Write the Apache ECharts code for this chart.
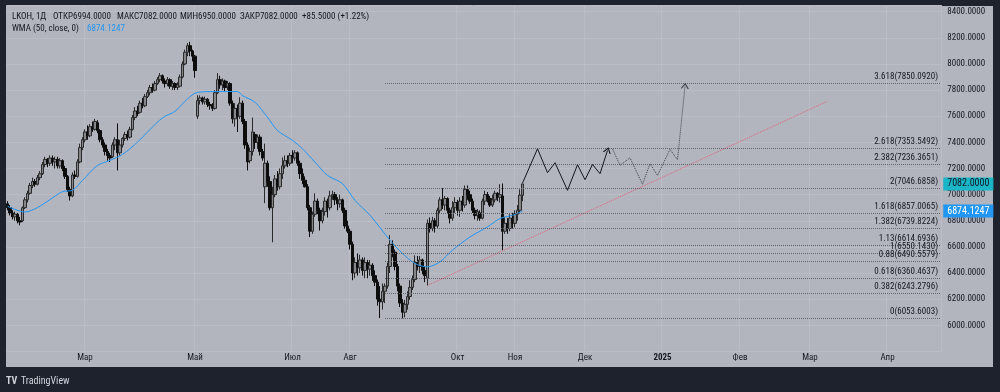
<!DOCTYPE html>
<html><head><meta charset="utf-8">
<script src="https://cdn.jsdelivr.net/npm/echarts@6/dist/echarts.min.js"></script>
<style>html,body{margin:0;padding:0;background:#1e222d;}#c{width:1000px;height:392px;}</style>
</head><body><div id="c"></div>
<script>
const FONT = "'Liberation Sans Narrow','Roboto Condensed','Roboto',sans-serif";
const TXT = '#131722';
const FS = 9;

// ---- calendar ----
const historyStart = '2024-01-18';
const holidays = ['2024-05-01','2024-05-09','2024-05-10','2024-06-12','2024-11-04'];
const workSaturdays = ['2024-04-27','2024-11-02'];
const futureDays = 167;
const monthTicks = ['2024-03','2024-05','2024-07','2024-08','2024-10','2024-11','2024-12','2025-01','2025-02','2025-03','2025-04'];
const monthNames = ['Мар','Май','Июл','Авг','Окт','Ноя','Дек','2025','Фев','Мар','Апр'];

// ---- daily candles [open, close, low, high] ----
const ohlc = [
[6930,6900,6880,6950],[6900,6860,6840,6920],[6860,6830,6810,6880],[6830,6850,6800,6870],[6850,6800,6780,6860],
[6800,6790,6765,6830],[6800,6900,6790,6910],[6900,6960,6890,6980],[6960,7010,6940,7030],[7010,7070,7000,7090],
[7070,7100,7050,7130],[7100,7080,7060,7120],[7080,7130,7070,7150],[7130,7160,7110,7180],[7160,7230,7150,7250],
[7230,7270,7210,7290],[7270,7240,7210,7280],[7240,7280,7220,7300],[7280,7250,7220,7300],[7250,7270,7200,7290],
[7270,7220,7200,7290],[7220,7260,7200,7280],[7260,7200,7180,7270],[7200,7140,7120,7220],[7140,7040,7020,7150],
[7040,6990,6955,7060],[6990,7150,6980,7170],[7150,7140,7120,7185],[7140,7250,7130,7270],[7250,7360,7240,7390],
[7360,7420,7340,7440],[7420,7480,7400,7500],[7480,7450,7420,7530],[7450,7520,7440,7540],[7520,7500,7480,7560],
[7500,7560,7490,7580],[7550,7490,7470,7570],[7490,7420,7400,7500],[7420,7380,7360,7440],[7380,7330,7300,7400],
[7330,7300,7260,7350],[7300,7280,7250,7320],[7290,7380,7280,7400],[7380,7420,7340,7440],[7420,7320,7185,7545],
[7320,7380,7300,7420],[7380,7430,7360,7440],[7430,7460,7410,7480],[7460,7440,7415,7490],[7440,7500,7430,7520],
[7500,7590,7490,7610],[7590,7640,7570,7670],[7640,7620,7600,7680],[7630,7700,7620,7720],[7700,7680,7660,7740],
[7680,7750,7670,7770],[7750,7780,7740,7800],[7780,7820,7760,7840],[7820,7800,7780,7850],[7800,7850,7790,7870],
[7850,7880,7840,7900],[7880,7910,7860,7930],[7910,7870,7850,7920],[7870,7850,7820,7890],[7850,7880,7830,7900],
[7880,7830,7810,7890],[7830,7850,7800,7870],[7850,7820,7800,7860],[7820,7840,7800,7860],[7830,7900,7820,7920],
[7900,8000,7890,8020],[8000,8090,7990,8110],[8090,8140,8060,8160],[8140,8100,8060,8170],[8100,8060,8020,8110],
[8060,7950,7895,8070],[7600,7720,7580,7760],[7720,7740,7690,7760],[7740,7710,7690,7750],[7710,7730,7690,7750],
[7730,7690,7670,7740],[7690,7680,7650,7710],[7680,7660,7640,7700],[7660,7780,7650,7800],[7780,7880,7770,7930],
[7880,7840,7810,7910],[7840,7870,7800,7890],[7870,7820,7790,7880],[7830,7850,7800,7870],[7850,7700,7680,7860],
[7700,7580,7545,7720],[7580,7660,7520,7700],[7660,7600,7480,7690],[7600,7700,7580,7745],[7700,7560,7540,7720],
[7560,7380,7350,7580],[7380,7250,7185,7400],[7260,7330,7240,7360],[7330,7480,7300,7590],[7460,7400,7350,7480],
[7400,7440,7350,7460],[7440,7330,7300,7460],[7330,7280,7260,7350],[7060,7240,6935,7390],[7240,7100,7060,7260],
[7100,6900,6880,7140],[6900,7000,6635,7060],[7000,7120,6980,7150],[7120,7060,7030,7180],[7060,7160,7040,7200],
[7160,7220,7120,7285],[7220,7260,7200,7300],[7260,7240,7210,7300],[7240,7300,7220,7320],[7300,7280,7240,7340],
[7280,7320,7260,7340],[7320,7240,7220,7330],[7240,7160,7120,7260],[7160,7110,7080,7200],[7110,7060,7055,7140],
[7060,6900,6880,7080],[6900,6720,6675,6920],[6720,6850,6700,6870],[6850,6950,6830,7010],[6950,6880,6850,6970],
[6880,6800,6725,6900],[6800,6870,6780,6900],[6870,6950,6840,6980],[6950,6900,6825,6970],[6900,6990,6880,7030],
[6990,7000,6960,7030],[7000,6960,6920,7020],[6960,6930,6880,6980],[6930,6960,6900,7000],[6960,6880,6860,6970],
[6880,6760,6740,6900],[6760,6720,6705,6800],[6720,6620,6580,6740],[6620,6400,6345,6640],[6400,6480,6360,6520],
[6480,6440,6380,6550],[6440,6500,6400,6540],[6500,6420,6380,6520],[6420,6480,6360,6520],[6480,6430,6360,6500],
[6430,6460,6380,6500],[6460,6380,6340,6475],[6380,6330,6300,6420],[6330,6200,6150,6350],[6200,6180,6055,6300],
[6180,6260,6120,6320],[6260,6300,6170,6320],[6300,6450,6280,6480],[6450,6620,6400,6690],[6620,6560,6520,6650],
[6560,6450,6420,6580],[6450,6300,6260,6470],[6300,6170,6140,6320],[6170,6100,6053.6,6200],[6100,6160,6060,6195],
[6160,6220,6120,6260],[6220,6290,6195,6345],[6290,6350,6270,6380],[6350,6480,6330,6535],[6480,6450,6420,6530],
[6450,6500,6400,6530],[6500,6420,6390,6510],[6420,6380,6330,6450],[6360,6780,6305,6810],[6780,6740,6710,6825],
[6740,6800,6720,6830],[6800,6760,6710,6820],[6760,6880,6740,6900],[6880,6960,6860,6980],[6960,6920,6890,7050],
[6920,6970,6880,6990],[6970,6880,6860,6980],[6880,6820,6780,6900],[6820,6900,6800,6950],[6900,6940,6860,6980],
[6940,6880,6840,6960],[6880,6950,6830,6980],[6950,6920,6870,6990],[6920,7040,6900,7070],[7040,7000,6960,7070],
[7000,6950,6930,7030],[6950,6880,6860,6970],[6880,6840,6810,6900],[6840,6870,6800,6890],[6860,6820,6800,6880],
[6820,6950,6810,6970],[6950,7000,6920,7030],[7000,6970,6940,7020],[6970,6920,6905,6990],[6920,6960,6905,7000],
[6960,7010,6940,7030],[7010,6980,6950,7020],[6980,7000,6940,7080],[6990,6720,6575,7085],[6720,6780,6700,6830],
[6780,6740,6700,6820],[6740,6820,6720,6850],[6820,6780,6740,6860],[6780,6850,6750,6880],[6850,6880,6800,6920],
[6880,6996.5,6860,7040],[6994,7082,6950,7082]
];

// ---- WMA(50): [bar index, value] ----
const wmaPoints = [[0,6911],[7,6867],[12,6901],[17,6962],[22,7023],[26,7033],[30,7109],[36,7224],[41,7262],[46,7308],
[52,7402],[57,7498],[62,7588],[67,7638],[72,7733],[76,7783],[84,7789],[92,7789],[94,7758],[99,7707],[104,7592],
[108,7491],[114,7415],[118,7351],[123,7249],[128,7147],[134,7084],[139,6956],[145,6842],[153,6651],[158,6550],
[163,6473],[168,6447],[173,6486],[178,6575],[185,6676],[192,6753],[197,6817],[202,6842],[206,6874.1247]];
const wmaLast = 6874.1247;

// ---- projections ----
const projDates = ['2024-11-06','2024-11-12','2024-11-16','2024-11-19','2024-11-24','2024-11-28','2024-12-01','2024-12-04','2024-12-07','2024-12-10'];
const projValues = [7088,7351,7168,7244,7033,7229,7114,7231,7160,7338];
const proj2Dates = ['2024-12-12','2024-12-15','2024-12-19','2024-12-24','2024-12-27','2024-12-30','2025-01-04','2025-01-07','2025-01-10'];
const proj2Values = [7350,7224,7282,7079,7237,7147,7346,7267,7830];
const trendDates = ['2024-09-13','2025-03-08'];
const trendValues = [6305,7715];

// ---- Fibonacci extension ----
const fibStartDate = '2024-08-21';
const fibRatios = ['0','0.382','0.618','0.88','1','1.13','1.382','1.618','2','2.382','2.618','3.618'];
const fibValues = [6053.6003,6243.2796,6360.4637,6490.5579,6550.1430,6614.6936,6739.8224,6857.0065,7046.6858,7236.3651,7353.5492,7850.0920];

// ---- header ----
const header1 = [['LKOH, 1Д',12],['ОТКР6994.0000',53],['МАКС7082.0000',117],['МИН6950.0000',180],['ЗАКР7082.0000',240],['+85.5000 (+1.22%)',302]];

// ---- build categories ----
function fmt(d){return d.toISOString().slice(0,10);}
const dates = [];
let d = new Date(historyStart+'T00:00:00Z');
while (dates.length < ohlc.length) {
  const s = fmt(d), wd = d.getUTCDay();
  if ((wd>0 && wd<6 && !holidays.includes(s)) || workSaturdays.includes(s)) dates.push(s);
  d.setUTCDate(d.getUTCDate()+1);
}
d = new Date(dates[dates.length-1]+'T00:00:00Z');
for (let i=0;i<futureDays;i++){ d.setUTCDate(d.getUTCDate()+1); dates.push(fmt(d)); }
const idx = s => dates.indexOf(s);
const labelMap = {};
monthTicks.forEach((m,k)=>{ const i = dates.findIndex(x=>x.startsWith(m)); if(i>=0) labelMap[i]=monthNames[k]; });
const isTick = (i)=> labelMap[i] !== undefined;
const lastIdx = dates.length-1;
const lastClose = ohlc[ohlc.length-1][1];

const chevron = 'path://M0,8L4,0L8,8';
const projData = projDates.map((s,k)=>[idx(s),projValues[k]]);
projData[projData.length-1] = {value: projData[projData.length-1], symbol: chevron, symbolSize:[7,5], symbolRotate:-17,
  itemStyle:{color:'rgba(0,0,0,0)', borderColor:'#131722', borderWidth:1}};
const proj2Data = proj2Dates.map((s,k)=>[idx(s),proj2Values[k]]);
proj2Data[proj2Data.length-1] = {value: proj2Data[proj2Data.length-1], symbol: chevron, symbolSize:[7,5], symbolRotate:-5,
  itemStyle:{color:'rgba(0,0,0,0)', borderColor:'#3c3f48', borderWidth:1}};

const chart = echarts.init(document.getElementById('c'));
const option = {
  backgroundColor: '#1e222d',
  animation: false,
  textStyle: {fontFamily: FONT},
  grid: {left: 6.25, right: 58.75, top: 5.2, bottom: 40.6},
  xAxis: {
    type: 'category', data: dates, boundaryGap: true,
    axisLine: {show:false}, axisTick: {show:false},
    axisLabel: {interval: (i)=>isTick(i), formatter: (v,i)=> labelMap[i]==='2025' ? '{b|2025}' : (labelMap[i]||''),
      color: TXT, fontSize: FS, fontFamily: FONT, margin: 2, hideOverlap: false,
      rich: {b: {fontWeight: 'bold', fontSize: FS, fontFamily: FONT, color: TXT}}},
    splitLine: {show: true, interval: (i)=>isTick(i), lineStyle: {color: '#babdc5', width: 1}}
  },
  yAxis: {
    type: 'value', position: 'right', min: 5800, max: 8450, interval: 200, scale: true,
    axisLine: {show:false}, axisTick: {show:false},
    axisLabel: {formatter: v=>v.toFixed(4), color: TXT, fontSize: FS, fontFamily: FONT, margin: 6, showMinLabel:false, showMaxLabel:false},
    splitLine: {show: true, lineStyle: {color: '#babdc5', width: 1}}
  },
  graphic: [
    {type:'rect', z:-100, silent:true, shape:{x:6,y:6,width:987,height:361}, style:{fill:'#b2b5be'}},
    ...header1.map(([t,x])=>({type:'text', z:100, silent:true, style:{text:t, x:x, y:17, verticalAlign:'middle', fill:TXT, font:FS+'px '+FONT}})),
    {type:'text', z:100, silent:true, style:{text:'WMA (50, close, 0)', x:12, y:29, verticalAlign:'middle', fill:TXT, font:FS+'px '+FONT}},
    {type:'text', z:100, silent:true, style:{text:wmaLast.toFixed(4), x:87, y:29, verticalAlign:'middle', fill:'#2196f3', font:FS+'px '+FONT}},
    {type:'text', z:100, silent:true, style:{text:'TV', x:6, y:381, verticalAlign:'middle', fill:'#d1d4dc', font:'bold 10px '+FONT}},
    {type:'text', z:100, silent:true, style:{text:'TradingView', x:21, y:381, verticalAlign:'middle', fill:'#d1d4dc', font:'10px '+FONT}}
  ],
  series: [
    {
      type: 'line', z: 1, data: [], silent: true,
      markLine: {
        silent: true, symbol: ['none','none'], animation:false,
        lineStyle: {type:'dotted', color:'#62656e', width:1},
        label: {show:true, position:'insideEndTop', distance:[2,2], color:TXT, fontSize:FS, fontFamily:FONT,
          formatter: p => p.data.name},
        data: fibValues.map((v,k)=>[
          {coord:[idx(fibStartDate), v], name: fibRatios[k]+'('+v.toFixed(4)+')'},
          {coord:[lastIdx, v]}
        ])
      }
    },
    {
      type: 'candlestick', z: 3, data: ohlc, barWidth: 3,
      itemStyle: {color:'#86878c', borderColor:'#2a2a2a', color0:'#0d0d0d', borderColor0:'#0d0d0d', borderWidth:1},
      markLine: {
        silent: true, symbol:['none','none'], animation:false,
        lineStyle: {color:'rgba(0,0,0,0)', width:0},
        data: [
          {yAxis: lastClose, label:{show:true, position:'end', distance:2, formatter: ()=>lastClose.toFixed(4),
            backgroundColor:'#1ab6c8', color:TXT, padding:[2,4,1,4], fontSize:FS+1, fontFamily:FONT}},
          {yAxis: wmaLast, label:{show:true, position:'end', distance:2, formatter: ()=>wmaLast.toFixed(4),
            backgroundColor:'#2196f3', color:'#ffffff', padding:[2,4,1,4], fontSize:FS+1, fontFamily:FONT}}
        ]
      }
    },
    {type:'line', z:4, data: wmaPoints, showSymbol:false, smooth:0.3, silent:true,
      lineStyle:{color:'#2196f3', width:1}},
    {type:'line', z:5, data: projData, symbol:'none', showSymbol:true, showAllSymbol:true, silent:true,
      lineStyle:{color:'#131722', width:1}},
    {type:'line', z:5, data: proj2Data, symbol:'none', showSymbol:true, showAllSymbol:true, silent:true,
      lineStyle:{color:'#3c3f48', width:1, type:'dotted'}},
    {type:'line', z:2, data: trendDates.map((s,k)=>[idx(s),trendValues[k]]), showSymbol:false, silent:true,
      lineStyle:{color:'#e4607a', width:1, type:'dotted'}}
  ]
};
chart.setOption(option);
</script></body></html>
